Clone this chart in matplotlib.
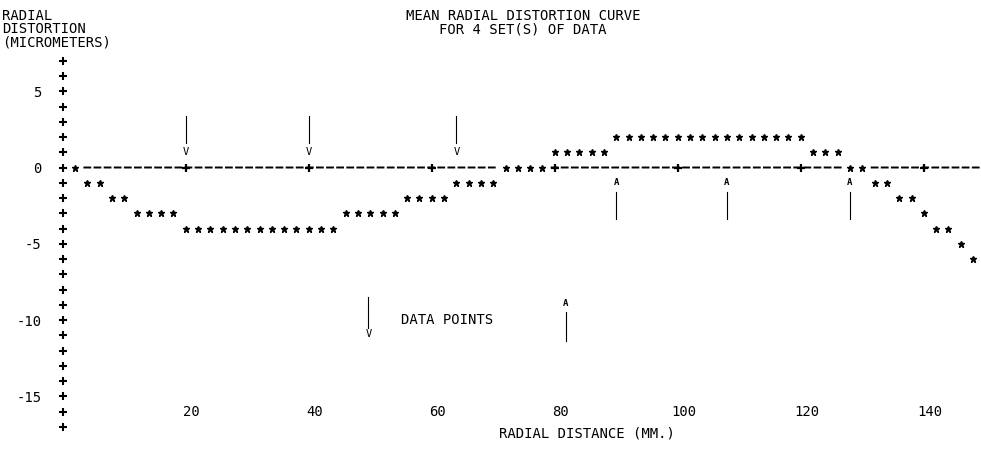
import numpy as np
import matplotlib
matplotlib.use("Agg")
import matplotlib.pyplot as plt

# radial distance (mm) and mean radial distortion (micrometers), as printed
radial_mm = [2, 4, 6, 8, 10, 12, 14, 16, 18, 20, 22, 24, 26, 28, 30, 32, 34, 36,
             38, 40, 42, 44, 46, 48, 50, 52, 54, 56, 58, 60, 62, 64, 66, 68, 70,
             72, 74, 76, 78, 80, 82, 84, 86, 88, 90, 92, 94, 96, 98, 100, 102,
             104, 106, 108, 110, 112, 114, 116, 118, 120, 122, 124, 126, 128,
             130, 132, 134, 136, 138, 140, 142, 144, 146, 148]
distortion = [0, -1, -1, -2, -2, -3, -3, -3, -3, -4, -4, -4, -4, -4, -4, -4, -4,
              -4, -4, -4, -4, -4, -3, -3, -3, -3, -3, -2, -2, -2, -2, -1, -1, -1,
              -1, 0, 0, 0, 0, 1, 1, 1, 1, 1, 2, 2, 2, 2, 2, 2, 2, 2, 2, 2, 2, 2,
              2, 2, 2, 2, 1, 1, 1, 0, 0, -1, -1, -2, -2, -3, -4, -4, -5, -6]

down_arrows = [20, 40, 64]     # data points of one set (above the curve)
up_arrows = [90, 108, 128]     # data points of other set (below the curve)
x_ticks = [20, 40, 60, 80, 100, 120, 140]
y_ticks = [5, 0, -5, -10, -15]
y_rows = list(range(-17, 8))

font = "DejaVu Sans Mono"
fs = 10

fig = plt.figure(figsize=(9.81, 4.49), dpi=100)
ax = fig.add_axes([44.3 / 981, 7 / 449, 936.7 / 981, 396.5 / 449])
ax.set_xlim(-3, 149.3)
ax.set_ylim(-18, 8)

# printed y axis: column of plus signs
ax.plot([0] * len(y_rows), y_rows, ls="none", marker="+", ms=5.5, mew=1.5, color="black")

# zero line, broken where printed stars sit on it
xs = np.linspace(3, 149.3, 2000)
zero_pts = [r for r, d in zip(radial_mm, distortion) if d == 0]
gap = np.zeros_like(xs, dtype=bool)
for r in zero_pts:
    gap |= np.abs(xs - r) < 1.3
ax.plot(xs, np.ma.masked_where(gap, np.zeros_like(xs)), color="black", lw=1.4,
        dashes=(4, 1.2))
ax.plot(x_ticks, [0] * len(x_ticks), ls="none", marker="+", ms=5.5, mew=1.6, color="black")

# distortion curve as printed asterisks
ax.plot(radial_mm, distortion, ls="none", marker="*", ms=5, color="black")

# data point arrows
for x in down_arrows:
    ax.plot([x, x], [3.4, 1.6], color="black", lw=0.8)
    ax.text(x, 1.0, "V", ha="center", va="center", fontsize=7.5, family=font)
for x in up_arrows:
    ax.plot([x, x], [-1.6, -3.4], color="black", lw=0.8)
    ax.text(x, -1.0, "A", ha="center", va="center", fontsize=6.5, family=font,
            weight="bold")

# legend for the arrows
ax.plot([49.7, 49.7], [-8.5, -10.5], color="black", lw=0.8)
ax.text(49.7, -10.9, "V", ha="center", va="center", fontsize=7.5, family=font)
ax.text(55, -10.0, "DATA POINTS", ha="left", va="center", fontsize=fs, family=font)
ax.plot([81.8, 81.8], [-9.5, -11.4], color="black", lw=0.8)
ax.text(81.8, -8.9, "A", ha="center", va="center", fontsize=6.5, family=font,
        weight="bold")

# axes: no frame, printed labels only
for s in ax.spines.values():
    s.set_visible(False)
ax.spines["bottom"].set_position(("data", -15.4))
ax.set_xticks(x_ticks)
ax.set_xticklabels([str(t) for t in x_ticks], family=font, fontsize=fs)
ax.set_yticks(y_ticks)
ax.set_yticklabels([str(t) for t in y_ticks], family=font, fontsize=fs)
ax.tick_params(axis="both", length=0)
ax.tick_params(axis="x", pad=2)
ax.tick_params(axis="y", pad=2)
offset = matplotlib.transforms.ScaledTranslation(6 / 100, 0, fig.dpi_scale_trans)
for lab in ax.get_xticklabels():
    lab.set_transform(lab.get_transform() + offset)

ax.set_xlabel("RADIAL DISTANCE (MM.)", family=font, fontsize=fs)
ax.xaxis.set_label_coords((587 - 44.3) / 936.7, 0.038)

fig.text(2 / 981, 1 - 9 / 449, "RADIAL\nDISTORTION\n(MICROMETERS)", ha="left",
         va="top", family=font, fontsize=fs, linespacing=0.95)
fig.text(523 / 981, 1 - 9 / 449, "MEAN RADIAL DISTORTION CURVE\nFOR 4 SET(S) OF DATA",
         ha="center", va="top", family=font, fontsize=fs, linespacing=0.95,
         multialignment="center")

fig.savefig("out.png", dpi=100, facecolor="white")
